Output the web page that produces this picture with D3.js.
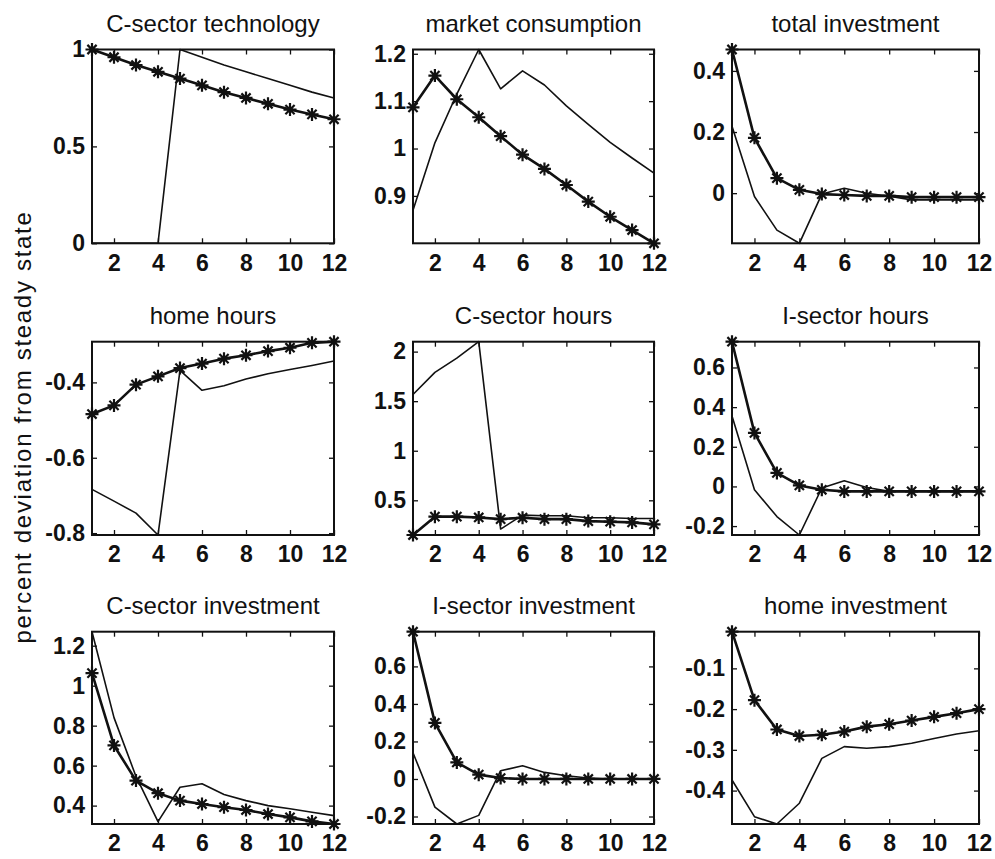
<!DOCTYPE html>
<html><head><meta charset="utf-8">
<script src="https://cdn.jsdelivr.net/npm/d3@7"></script>
<style>body{margin:0;background:#fff} svg{display:block}</style>
</head><body>
<svg id="chart" width="995" height="859"></svg>
<script>
// ---- data ----
const periods = [1,2,3,4,5,6,7,8,9,10,11,12];
const xTickValues = [2,4,6,8,10,12];
const titles = ["C-sector technology","market consumption","total investment",
                "home hours","C-sector hours","I-sector hours",
                "C-sector investment","I-sector investment","home investment"];
const yAxisLabel = "percent deviation from steady state";

const techStar  = [1, 0.96, 0.92, 0.885, 0.85, 0.815, 0.78, 0.75, 0.72, 0.69, 0.665, 0.64];
const techPlain = [0, 0, 0, 0, 1, 0.96, 0.92, 0.885, 0.85, 0.815, 0.78, 0.75];
const consStar  = [1.087, 1.154, 1.104, 1.066, 1.026, 0.987, 0.957, 0.923, 0.888, 0.856, 0.828, 0.80];
const consPlain = [0.870, 1.012, 1.115, 1.209, 1.126, 1.164, 1.134, 1.09, 1.051, 1.013, 0.980, 0.948];
const totInvStar  = [0.47, 0.181, 0.049, 0.011, -0.003, -0.006, -0.009, -0.009, -0.013, -0.013, -0.013, -0.013];
const totInvPlain = [0.219, -0.011, -0.121, -0.164, -0.003, 0.016, 0, -0.01, -0.022, -0.022, -0.022, -0.022];
const homeHrStar  = [-0.484, -0.461, -0.406, -0.384, -0.362, -0.350, -0.337, -0.328, -0.317, -0.308, -0.295, -0.292];
const homeHrPlain = [-0.684, -0.715, -0.747, -0.805, -0.368, -0.421, -0.409, -0.391, -0.377, -0.366, -0.355, -0.343];
const cHrStar  = [0.15, 0.335, 0.335, 0.327, 0.31, 0.324, 0.31, 0.31, 0.29, 0.284, 0.277, 0.257];
const cHrPlain = [1.567, 1.79, 1.934, 2.1, 0.21, 0.35, 0.344, 0.344, 0.324, 0.324, 0.317, 0.317];
const iHrStar  = [0.73, 0.27, 0.068, 0.005, -0.017, -0.025, -0.025, -0.025, -0.025, -0.025, -0.025, -0.025];
const iHrPlain = [0.355, -0.017, -0.152, -0.245, -0.008, 0.029, -0.005, -0.025, -0.025, -0.025, -0.025, -0.025];
const cInvStar  = [1.063, 0.701, 0.525, 0.462, 0.425, 0.408, 0.392, 0.378, 0.358, 0.341, 0.321, 0.308];
const cInvPlain = [1.27, 0.84, 0.546, 0.32, 0.492, 0.509, 0.456, 0.425, 0.40, 0.384, 0.367, 0.35];
const iInvStar  = [0.785, 0.299, 0.088, 0.023, 0.005, 0, 0, 0, 0, 0, 0, 0];
const iInvPlain = [0.14, -0.15, -0.24, -0.194, 0.044, 0.07, 0.035, 0.017, 0.005, 0, 0, 0];
const homeInvStar  = [-0.01, -0.178, -0.250, -0.266, -0.263, -0.255, -0.243, -0.237, -0.228, -0.219, -0.210, -0.200];
const homeInvPlain = [-0.374, -0.464, -0.482, -0.431, -0.321, -0.292, -0.296, -0.292, -0.284, -0.272, -0.261, -0.253];

const techTicks   = [0, 0.5, 1];
const consTicks   = [0.9, 1, 1.1, 1.2];
const totInvTicks = [0, 0.2, 0.4];
const homeHrTicks = [-0.8, -0.6, -0.4];
const cHrTicks    = [0.5, 1, 1.5, 2];
const iHrTicks    = [-0.2, 0, 0.2, 0.4, 0.6];
const cInvTicks   = [0.4, 0.6, 0.8, 1, 1.2];
const iInvTicks   = [-0.2, 0, 0.2, 0.4, 0.6];
const homeInvTicks= [-0.4, -0.3, -0.2, -0.1];

const starSeries  = [techStar, consStar, totInvStar, homeHrStar, cHrStar, iHrStar, cInvStar, iInvStar, homeInvStar];
const plainSeries = [techPlain, consPlain, totInvPlain, homeHrPlain, cHrPlain, iHrPlain, cInvPlain, iInvPlain, homeInvPlain];
const yTickSets   = [techTicks, consTicks, totInvTicks, homeHrTicks, cHrTicks, iHrTicks, cInvTicks, iInvTicks, homeInvTicks];

// ---- layout ----
const colLeft = [92, 413, 732], colRight = [334, 654, 979];
const rowTop = [49.5, 341.7, 631.7], rowBottom = [243.3, 535, 824];
const FONT = "'Liberation Sans', Arial, Helvetica, sans-serif";
const INK = "#111";

const svg = d3.select("#chart");

svg.append("text")
  .attr("transform", "translate(31,427) rotate(-90)")
  .attr("text-anchor", "middle")
  .style("font-family", FONT).style("font-size", "24px").style("letter-spacing", "1.7px")
  .attr("fill", INK)
  .text(yAxisLabel);

const starPath = "M-6.5,0L6.5,0M0,-6.5L0,6.5M-4.6,-4.6L4.6,4.6M-4.6,4.6L4.6,-4.6";

titles.forEach((title, i) => {
  const r = Math.floor(i / 3), c = i % 3;
  const L = colLeft[c], R = colRight[c], T = rowTop[r], B = rowBottom[r];
  const star = starSeries[i], plain = plainSeries[i];
  const all = star.concat(plain);
  const x = d3.scaleLinear().domain([1, 12]).range([L, R]);
  const y = d3.scaleLinear().domain(d3.extent(all)).range([B, T]);

  const g = svg.append("g");

  // axes with inward ticks
  const fmt = d => String(d);
  const left = g.append("g").attr("transform", `translate(${L},0)`)
    .call(d3.axisLeft(y).tickValues(yTickSets[i]).tickSizeInner(-5).tickSizeOuter(0).tickPadding(7).tickFormat(fmt));
  const right = g.append("g").attr("transform", `translate(${R},0)`)
    .call(d3.axisRight(y).tickValues(yTickSets[i]).tickSizeInner(-5).tickSizeOuter(0).tickFormat(""));
  const bottom = g.append("g").attr("transform", `translate(0,${B})`)
    .call(d3.axisBottom(x).tickValues(xTickValues).tickSizeInner(-5).tickSizeOuter(0).tickPadding(11).tickFormat(fmt));
  const top = g.append("g").attr("transform", `translate(0,${T})`)
    .call(d3.axisTop(x).tickValues(xTickValues).tickSizeInner(-5).tickSizeOuter(0).tickFormat(""));
  [left, right, bottom, top].forEach(a => {
    a.select(".domain").remove();
    a.selectAll(".tick line").attr("stroke", INK).attr("stroke-width", 1.3);
    a.selectAll(".tick text").attr("fill", INK)
      .style("font-family", FONT).style("font-size", "23px").style("font-weight", "bold");
  });

  // box
  g.append("rect").attr("x", L).attr("y", T).attr("width", R - L).attr("height", B - T)
    .attr("fill", "none").attr("stroke", INK).attr("stroke-width", 2);

  const line = d3.line().x((d, k) => x(periods[k])).y(d => y(d));

  g.append("path").attr("d", line(plain)).attr("fill", "none")
    .attr("stroke", INK).attr("stroke-width", 1.6).attr("stroke-linejoin", "round");
  g.append("path").attr("d", line(star)).attr("fill", "none")
    .attr("stroke", INK).attr("stroke-width", 2.6).attr("stroke-linejoin", "round");
  g.selectAll(".star").data(star).enter().append("path")
    .attr("class", "star")
    .attr("transform", (d, k) => `translate(${x(periods[k])},${y(d)})`)
    .attr("d", starPath).attr("fill", "none").attr("stroke", INK).attr("stroke-width", 2.2);

  // title
  g.append("text").attr("x", (L + R) / 2).attr("y", T - 18)
    .attr("text-anchor", "middle").attr("fill", INK)
    .style("font-family", FONT).style("font-size", "24px")
    .text(title);
});
</script>
</body></html>
